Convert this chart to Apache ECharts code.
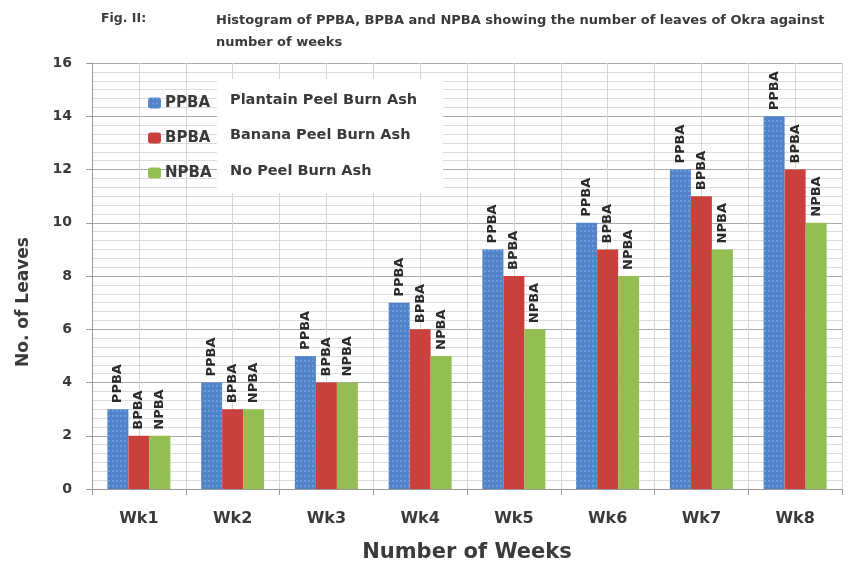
<!DOCTYPE html>
<html><head><meta charset="utf-8">
<script src="https://cdn.jsdelivr.net/npm/echarts@6/dist/echarts.min.js"></script>
<style>html,body{margin:0;padding:0;background:#fff}#c{width:849px;height:568px}</style>
</head><body><div id="c"></div>
<script>
const categories = ['Wk1','Wk2','Wk3','Wk4','Wk5','Wk6','Wk7','Wk8'];
const seriesNames = ['PPBA','BPBA','NPBA'];
const descriptions = ['Plantain Peel Burn Ash','Banana Peel Burn Ash','No Peel Burn Ash'];
const ppba = [3,4,5,7,9,10,12,14];
const bpba = [2,3,4,6,8,9,11,12];
const npba = [2,3,4,5,6,8,9,10];
const colors = ['#5083C9','#C9403D','#93BE52'];
const halfCats = [];
categories.forEach(c => { halfCats.push(c + 'a'); halfCats.push(c + 'b'); });

const chart = echarts.init(document.getElementById('c'));
const font = '"DejaVu Sans", sans-serif';
const txt = '#3a3a3a';
const values = [ppba, bpba, npba];
chart.setOption({
  animation: false,
  textStyle: {fontFamily: font},
  grid: {left: 92, right: 7, top: 63, bottom: 78},
  title: [
    {text: 'Fig. II:', left: 96, top: 7, textStyle: {fontSize: 12.5, fontWeight: 'bold', color: txt, fontFamily: font}},
    {text: 'Histogram of PPBA, BPBA and NPBA showing the number of leaves of Okra against\nnumber of weeks', left: 211, top: 5,
     textStyle: {fontSize: 13, fontWeight: 'bold', color: txt, lineHeight: 22, fontFamily: font}}
  ],
  legend: {
    orient: 'vertical', left: 143, top: 90, itemWidth: 13, itemHeight: 11, itemGap: 19,
    data: seriesNames, textStyle: {fontSize: 15, fontWeight: 'bold', color: txt, lineHeight: 16, padding: [0,0,0,-1]}
  },
  graphic: [
    {type: 'rect', shape: {x: 217, y: 79, width: 226, height: 114}, style: {fill: '#fff'}, z: 5},
    ...descriptions.map((d, i) => ({type: 'text', x: 230, y: 100 + i * 35.5, z: 6,
      style: {text: d, fontSize: 14.5, fontWeight: 'bold', fill: txt, fontFamily: font, textVerticalAlign: 'middle'}})),
    {type: 'text', x: 24, y: 302, rotation: Math.PI / 2, z: 6,
     style: {text: 'No. of Leaves', fontSize: 17, fontWeight: 'bold', fill: txt, fontFamily: font, textAlign: 'center', textVerticalAlign: 'middle'}}
  ],
  xAxis: [
    {type: 'category', data: categories, name: 'Number of Weeks', nameLocation: 'middle', nameGap: 53,
     nameTextStyle: {fontSize: 21, fontWeight: 'bold', color: txt},
     axisLine: {lineStyle: {color: '#999'}}, axisTick: {show: true, length: 6, lineStyle: {color: '#999'}},
     axisLabel: {fontSize: 16, fontWeight: 'bold', color: txt, margin: 22},
     splitLine: {show: true, lineStyle: {color: '#aaa'}}},
    {type: 'category', data: halfCats, position: 'bottom', show: true, axisLine: {show: false}, axisTick: {show: false},
     axisLabel: {show: false}, splitLine: {show: true, lineStyle: {color: '#d6d6d6'}}}
  ],
  yAxis: {
    type: 'value', min: 0, max: 16, interval: 2,
    axisLine: {show: true, lineStyle: {color: '#999'}}, axisTick: {show: true, length: 6, lineStyle: {color: '#999'}},
    axisLabel: {fontSize: 14, fontWeight: 'bold', color: txt, margin: 20},
    splitLine: {lineStyle: {color: '#aaa'}},
    minorTick: {show: false, splitNumber: 6},
    minorSplitLine: {show: true, lineStyle: {color: '#dcdcdc'}}
  },
  series: seriesNames.map((n, i) => {
    const itemStyle = {color: colors[i]};
    if (i === 0) itemStyle.decal = {symbol: 'rect', symbolSize: 1, color: 'rgba(255,255,255,0.18)', dashArrayX: [2, 2], dashArrayY: [2, 3]};
    return {
      name: n, type: 'bar', data: values[i], barWidth: 21, barGap: '0%', xAxisIndex: 0,
      itemStyle: itemStyle,
      label: {show: true, position: 'top', rotate: 90, align: 'left', verticalAlign: 'middle', distance: 6,
        formatter: n, fontSize: 13, fontWeight: 'bold', color: '#2a2a2a'}
    };
  })
});
</script></body></html>
